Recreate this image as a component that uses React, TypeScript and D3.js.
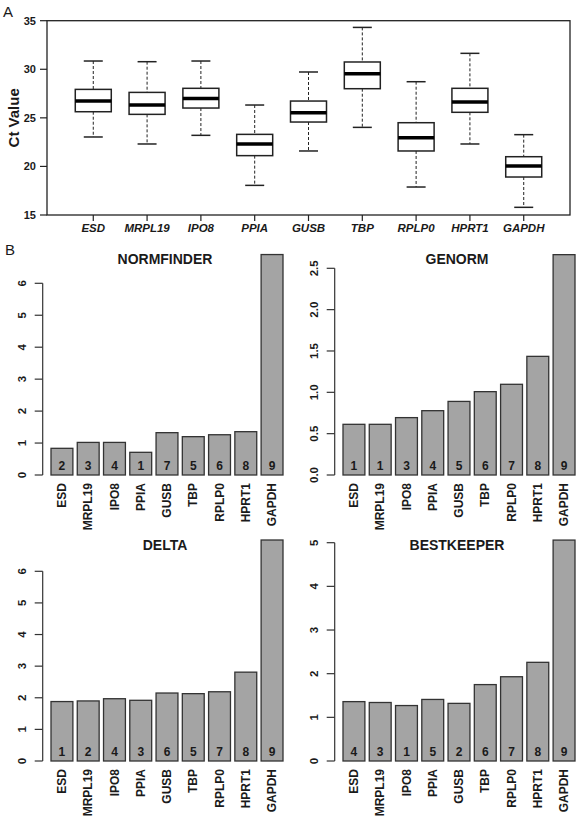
import React from "react";
import * as d3 from "d3";

const genes = ["ESD", "MRPL19", "IPO8", "PPIA", "GUSB", "TBP", "RPLP0", "HPRT1", "GAPDH"];

// Panel A boxplot statistics (Ct values)
const boxLower = [23.03, 22.31, 23.2, 18.05, 21.59, 24.02, 17.88, 22.31, 15.79];
const boxQ1 = [25.63, 25.36, 26.01, 21.11, 24.57, 28.0, 21.59, 25.57, 18.91];
const boxMedian = [26.73, 26.32, 27.0, 22.31, 25.53, 29.55, 22.96, 26.63, 20.04];
const boxQ3 = [27.93, 27.62, 28.04, 23.3, 26.73, 30.75, 24.5, 28.04, 21.0];
const boxUpper = [30.85, 30.78, 30.85, 26.32, 29.72, 34.31, 28.72, 31.64, 23.27];
const boxTicks = [15, 20, 25, 30, 35];

// Panel B bar values and ranks
const normfinderValues = [0.835, 1.02, 1.02, 0.71, 1.325, 1.2, 1.26, 1.356, 6.9];
const normfinderRanks = [2, 3, 4, 1, 7, 5, 6, 8, 9];
const normfinderTicks = [0, 1, 2, 3, 4, 5, 6];

const genormValues = [0.613, 0.613, 0.694, 0.778, 0.89, 1.008, 1.097, 1.435, 2.665];
const genormRanks = [1, 1, 3, 4, 5, 6, 7, 8, 9];
const genormTicks = [0, 0.5, 1.0, 1.5, 2.0, 2.5];

const deltaValues = [1.88, 1.9, 1.97, 1.92, 2.15, 2.13, 2.19, 2.81, 6.99];
const deltaRanks = [1, 2, 4, 3, 6, 5, 7, 8, 9];
const deltaTicks = [0, 1, 2, 3, 4, 5, 6];

const bestkeeperValues = [1.36, 1.34, 1.27, 1.41, 1.32, 1.75, 1.93, 2.26, 5.06];
const bestkeeperRanks = [4, 3, 1, 5, 2, 6, 7, 8, 9];
const bestkeeperTicks = [0, 1, 2, 3, 4, 5];

const FONT = "'Liberation Sans', Arial, Helvetica, sans-serif";
const INK = "#1a1a1a";

function BoxPanel() {
  const L = 47, R = 570, T = 20.7, B = 215;
  const x = d3.scaleLinear().domain([0.14, 9.86]).range([L, R]);
  const y = d3.scaleLinear().domain([15, 35]).range([B, T]);
  const bw = 36;
  const cw = 19;
  return (
    <g>
      <text x={3} y={17} fontSize={15} fontFamily={FONT} fill={INK}>A</text>
      <rect x={L} y={T} width={R - L} height={B - T} fill="none" stroke="#222" strokeWidth={1.3} />
      {boxTicks.map((t) => (
        <g key={t}>
          <line x1={L - 7} x2={L} y1={y(t)} y2={y(t)} stroke="#222" strokeWidth={1.2} />
          <text x={36} y={y(t)} dy="0.35em" textAnchor="end" fontSize={11} fontWeight="bold" fontFamily={FONT} fill={INK}>{t}</text>
        </g>
      ))}
      <text transform={`translate(14,${(T + B) / 2}) rotate(-90)`} textAnchor="middle" dy="0.35em" fontSize={15} fontWeight="bold" fontFamily={FONT} fill={INK}>Ct Value</text>
      {genes.map((g, i) => {
        const cx = x(i + 1);
        return (
          <g key={g}>
            <line x1={cx} x2={cx} y1={B} y2={B + 6} stroke="#222" strokeWidth={1.2} />
            <text x={cx} y={232} textAnchor="middle" fontSize={11.5} fontWeight="bold" fontStyle="italic" fontFamily={FONT} fill={INK}>{g}</text>
            <line x1={cx} x2={cx} y1={y(boxUpper[i])} y2={y(boxQ3[i])} stroke="#222" strokeWidth={1} strokeDasharray="3,2" />
            <line x1={cx} x2={cx} y1={y(boxQ1[i])} y2={y(boxLower[i])} stroke="#222" strokeWidth={1} strokeDasharray="3,2" />
            <line x1={cx - cw / 2} x2={cx + cw / 2} y1={y(boxUpper[i])} y2={y(boxUpper[i])} stroke="#222" strokeWidth={1.5} />
            <line x1={cx - cw / 2} x2={cx + cw / 2} y1={y(boxLower[i])} y2={y(boxLower[i])} stroke="#222" strokeWidth={1.5} />
            <rect x={cx - bw / 2} y={y(boxQ3[i])} width={bw} height={y(boxQ1[i]) - y(boxQ3[i])} fill="white" stroke="#222" strokeWidth={1.5} />
            <line x1={cx - bw / 2} x2={cx + bw / 2} y1={y(boxMedian[i])} y2={y(boxMedian[i])} stroke="#000" strokeWidth={3.5} />
          </g>
        );
      })}
    </g>
  );
}

type BarProps = {
  title: string;
  values: number[];
  ranks: number[];
  ticks: number[];
  fmt: (v: number) => string;
  dx: number;
  y0: number;
  yTopTick: number;
  label?: string;
};

function BarPanel({ title, values, ranks, ticks, fmt, dx, y0, yTopTick, label }: BarProps) {
  const axisX = 42.7 + dx;
  const x = d3.scaleBand<string>().domain(genes).range([51 + dx, 283 + dx]).paddingInner(1 / 6).paddingOuter(0);
  const maxTick = ticks[ticks.length - 1];
  const y = d3.scaleLinear().domain([0, maxTick]).range([y0, yTopTick]);
  return (
    <g fontFamily={FONT}>
      {label && <text x={5} y={y0 - 220} fontSize={15} fill={INK}>{label}</text>}
      <text x={165 + dx} y={y0 - 211} textAnchor="middle" fontSize={14} fontWeight="bold" fill={INK}>{title}</text>
      <line x1={axisX} x2={axisX} y1={y(0)} y2={y(maxTick)} stroke="#333" strokeWidth={1.2} />
      {ticks.map((t) => (
        <g key={t}>
          <line x1={axisX - 8} x2={axisX} y1={y(t)} y2={y(t)} stroke="#333" strokeWidth={1.2} />
          <text transform={`translate(${axisX - 21},${y(t)}) rotate(-90)`} textAnchor="middle" dy="0.35em" fontSize={11.5} fontWeight="bold" fill={INK}>{fmt(t)}</text>
        </g>
      ))}
      {genes.map((g, i) => {
        const bx = x(g) as number;
        const bwid = x.bandwidth();
        const cx = bx + bwid / 2;
        return (
          <g key={g}>
            <rect x={bx} y={y(values[i])} width={bwid} height={y0 - y(values[i])} fill="#a4a4a4" stroke="#333" strokeWidth={1.3} />
            <text x={cx} y={y0 - 5.5} textAnchor="middle" fontSize={12} fontWeight="bold" fill={INK}>{ranks[i]}</text>
            <text transform={`translate(${cx},${y0 + 8}) rotate(-90)`} textAnchor="end" dy="0.35em" fontSize={12} fontWeight="bold" fill={INK}>{g}</text>
          </g>
        );
      })}
    </g>
  );
}

export default function App() {
  const intFmt = (v: number) => String(v);
  const decFmt = d3.format(".1f");
  return (
    <svg width={588} height={819} style={{ position: "absolute", left: 0, top: 0, background: "white" }}>
      <rect x={0} y={0} width={588} height={819} fill="white" />
      <BoxPanel />
      <BarPanel title="NORMFINDER" values={normfinderValues} ranks={normfinderRanks} ticks={normfinderTicks} fmt={intFmt} dx={0} y0={475} yTopTick={283.3} label="B" />
      <BarPanel title="GENORM" values={genormValues} ranks={genormRanks} ticks={genormTicks} fmt={decFmt} dx={292} y0={475} yTopTick={268.3} />
      <BarPanel title="DELTA" values={deltaValues} ranks={deltaRanks} ticks={deltaTicks} fmt={intFmt} dx={0} y0={761} yTopTick={571.3} />
      <BarPanel title="BESTKEEPER" values={bestkeeperValues} ranks={bestkeeperRanks} ticks={bestkeeperTicks} fmt={intFmt} dx={292} y0={761} yTopTick={542.7} />
    </svg>
  );
}
